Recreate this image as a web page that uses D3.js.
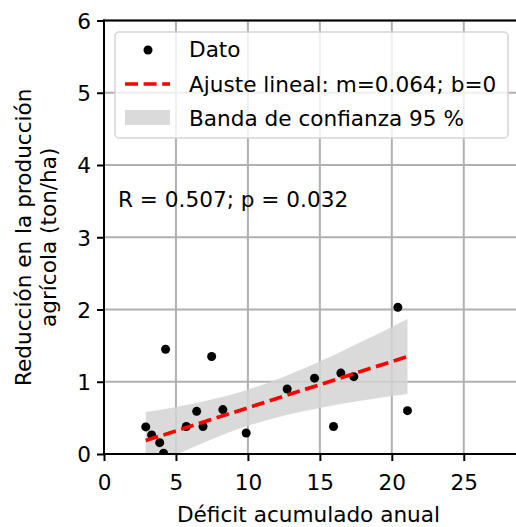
<!DOCTYPE html>
<html>
<head>
<meta charset="utf-8">
<script src="https://cdn.jsdelivr.net/npm/d3@7"></script>
<style>
  html, body { margin: 0; padding: 0; background: #fff; }
  svg text { font-family: "DejaVu Sans", sans-serif; fill: #000; }
</style>
</head>
<body>
<svg id="chart" width="516" height="527"></svg>
<script>
// Annual accumulated deficit vs. reduction in crop yield
const deficit   = [2.90, 3.31, 3.87, 4.14, 4.28, 5.72, 6.44, 6.88, 7.48, 8.26, 9.88, 12.73, 14.63, 15.95, 16.46, 17.36, 20.42, 21.09];
const reduccion = [0.375, 0.264, 0.157, 0.01, 1.45, 0.38, 0.59, 0.38, 1.35, 0.615, 0.29, 0.90, 1.05, 0.38, 1.12, 1.07, 2.03, 0.60];

// Linear fit and its 95 % confidence band
const slope = 0.064;
const intercept = 0;
const bandX     = [2.90, 5.0, 7.5, 10.0, 12.5, 15.0, 17.5, 21.09];
const bandUpper = [0.58, 0.65, 0.755, 0.89, 1.07, 1.28, 1.515, 1.87];
const bandLower = [-0.20, -0.01, 0.205, 0.39, 0.53, 0.635, 0.725, 0.83];

const xTicks = [0, 5, 10, 15, 20, 25];
const yTicks = [0, 1, 2, 3, 4, 5, 6];

const legendLabels = ["Dato", "Ajuste lineal: m=0.064; b=0", "Banda de confianza 95 %"];
const statsLabel = "R = 0.507; p = 0.032";
const xTitle = "Déficit acumulado anual";
const yTitle = ["Reducción en la producción", "agrícola (ton/ha)"];

const fs = 21.6;
const svg = d3.select("#chart");
const pLeft = 104, pRight = 517, pTop = 20.5, pBottom = 454;

const x = d3.scaleLinear().domain([0, 28.7]).range([pLeft, pRight]);
const y = d3.scaleLinear().domain([0, 6]).range([pBottom, pTop]);

svg.append("defs").append("clipPath").attr("id", "plotclip")
  .append("rect").attr("x", pLeft).attr("y", pTop).attr("width", pRight - pLeft).attr("height", pBottom - pTop);

// grid
const grid = svg.append("g");
grid.selectAll("line.gx").data(xTicks).join("line").attr("class", "gx")
  .attr("x1", d => x(d)).attr("x2", d => x(d)).attr("y1", pTop).attr("y2", pBottom)
  .attr("stroke", "#b0b0b0").attr("stroke-width", 2);
grid.selectAll("line.gy").data(yTicks).join("line").attr("class", "gy")
  .attr("y1", d => y(d)).attr("y2", d => y(d)).attr("x1", pLeft).attr("x2", pRight)
  .attr("stroke", "#b0b0b0").attr("stroke-width", 2);

const plot = svg.append("g").attr("clip-path", "url(#plotclip)");

// confidence band
const bandData = bandX.map((v, i) => ({x: v, hi: bandUpper[i], lo: bandLower[i]}));
plot.append("path")
  .datum(bandData)
  .attr("fill", "#d3d3d3").attr("fill-opacity", 0.85)
  .attr("d", d3.area().curve(d3.curveMonotoneX)
    .x(d => x(d.x)).y0(d => y(d.lo)).y1(d => y(d.hi)));

// points
plot.selectAll("circle.pt").data(deficit.map((d, i) => [d, reduccion[i]])).join("circle").attr("class", "pt")
  .attr("cx", d => x(d[0])).attr("cy", d => y(d[1])).attr("r", 4.5).attr("fill", "#000");

// fitted line
const xmin = d3.min(deficit), xmax = d3.max(deficit);
plot.append("line")
  .attr("x1", x(xmin)).attr("y1", y(slope * xmin + intercept))
  .attr("x2", x(xmax)).attr("y2", y(slope * xmax + intercept))
  .attr("stroke", "#ff0000").attr("stroke-width", 3.7)
  .attr("stroke-dasharray", "13,5.6");

// axes
const xAxis = svg.append("g").attr("transform", `translate(0,${pBottom})`)
  .call(d3.axisBottom(x).tickValues(xTicks).tickSize(7).tickPadding(5).tickFormat(d3.format("d")));
const yAxis = svg.append("g").attr("transform", `translate(${pLeft},0)`)
  .call(d3.axisLeft(y).tickValues(yTicks).tickSize(7).tickPadding(6).tickFormat(d3.format("d")));
[xAxis, yAxis].forEach(a => {
  a.attr("font-family", null).attr("font-size", null);
  a.select(".domain").remove();
  a.selectAll(".tick line").attr("stroke", "#000").attr("stroke-width", 2);
  a.selectAll(".tick text").attr("font-size", fs).attr("fill", "#000");
});
xAxis.selectAll(".tick text").attr("dy", null).attr("y", 36);
yAxis.selectAll(".tick text").attr("dy", "0.36em");

// spines: left, bottom, top
svg.append("line").attr("x1", pLeft).attr("x2", pLeft).attr("y1", pTop - 1).attr("y2", pBottom + 1).attr("stroke", "#000").attr("stroke-width", 2);
svg.append("line").attr("x1", pLeft - 1).attr("x2", pRight).attr("y1", pBottom).attr("y2", pBottom).attr("stroke", "#000").attr("stroke-width", 2);
svg.append("line").attr("x1", pLeft - 1).attr("x2", pRight).attr("y1", pTop).attr("y2", pTop).attr("stroke", "#000").attr("stroke-width", 2);

// axis titles
svg.append("text").attr("x", (pLeft + pRight) / 2 - 2).attr("y", 522)
  .attr("text-anchor", "middle").attr("font-size", fs).text(xTitle);
const yMid = (pTop + pBottom) / 2;
svg.append("text").attr("transform", `translate(31,${yMid}) rotate(-90)`)
  .attr("text-anchor", "middle").attr("font-size", fs).text(yTitle[0]);
svg.append("text").attr("transform", `translate(56,${yMid}) rotate(-90)`)
  .attr("text-anchor", "middle").attr("font-size", fs).text(yTitle[1]);

// statistics annotation
svg.append("text").attr("x", 118).attr("y", 207).attr("font-size", fs).text(statsLabel);

// legend
const lg = svg.append("g");
lg.append("rect").attr("x", 115).attr("y", 32).attr("width", 393).attr("height", 106).attr("rx", 4)
  .attr("fill", "#fff").attr("fill-opacity", 0.8).attr("stroke", "#d5d5d5").attr("stroke-width", 1.5);
lg.append("circle").attr("cx", 148).attr("cy", 50).attr("r", 4.5).attr("fill", "#000");
lg.append("line").attr("x1", 125).attr("x2", 170).attr("y1", 84).attr("y2", 84)
  .attr("stroke", "#ff0000").attr("stroke-width", 3.7).attr("stroke-dasharray", "13,5.6");
lg.append("rect").attr("x", 125).attr("y", 110).attr("width", 45).attr("height", 15)
  .attr("fill", "#d3d3d3").attr("fill-opacity", 0.85);
lg.selectAll("text.lab").data(legendLabels).join("text").attr("class", "lab")
  .attr("x", 189).attr("y", (d, i) => 57 + i * 34.5).attr("font-size", fs).text(d => d);
</script>
</body>
</html>
